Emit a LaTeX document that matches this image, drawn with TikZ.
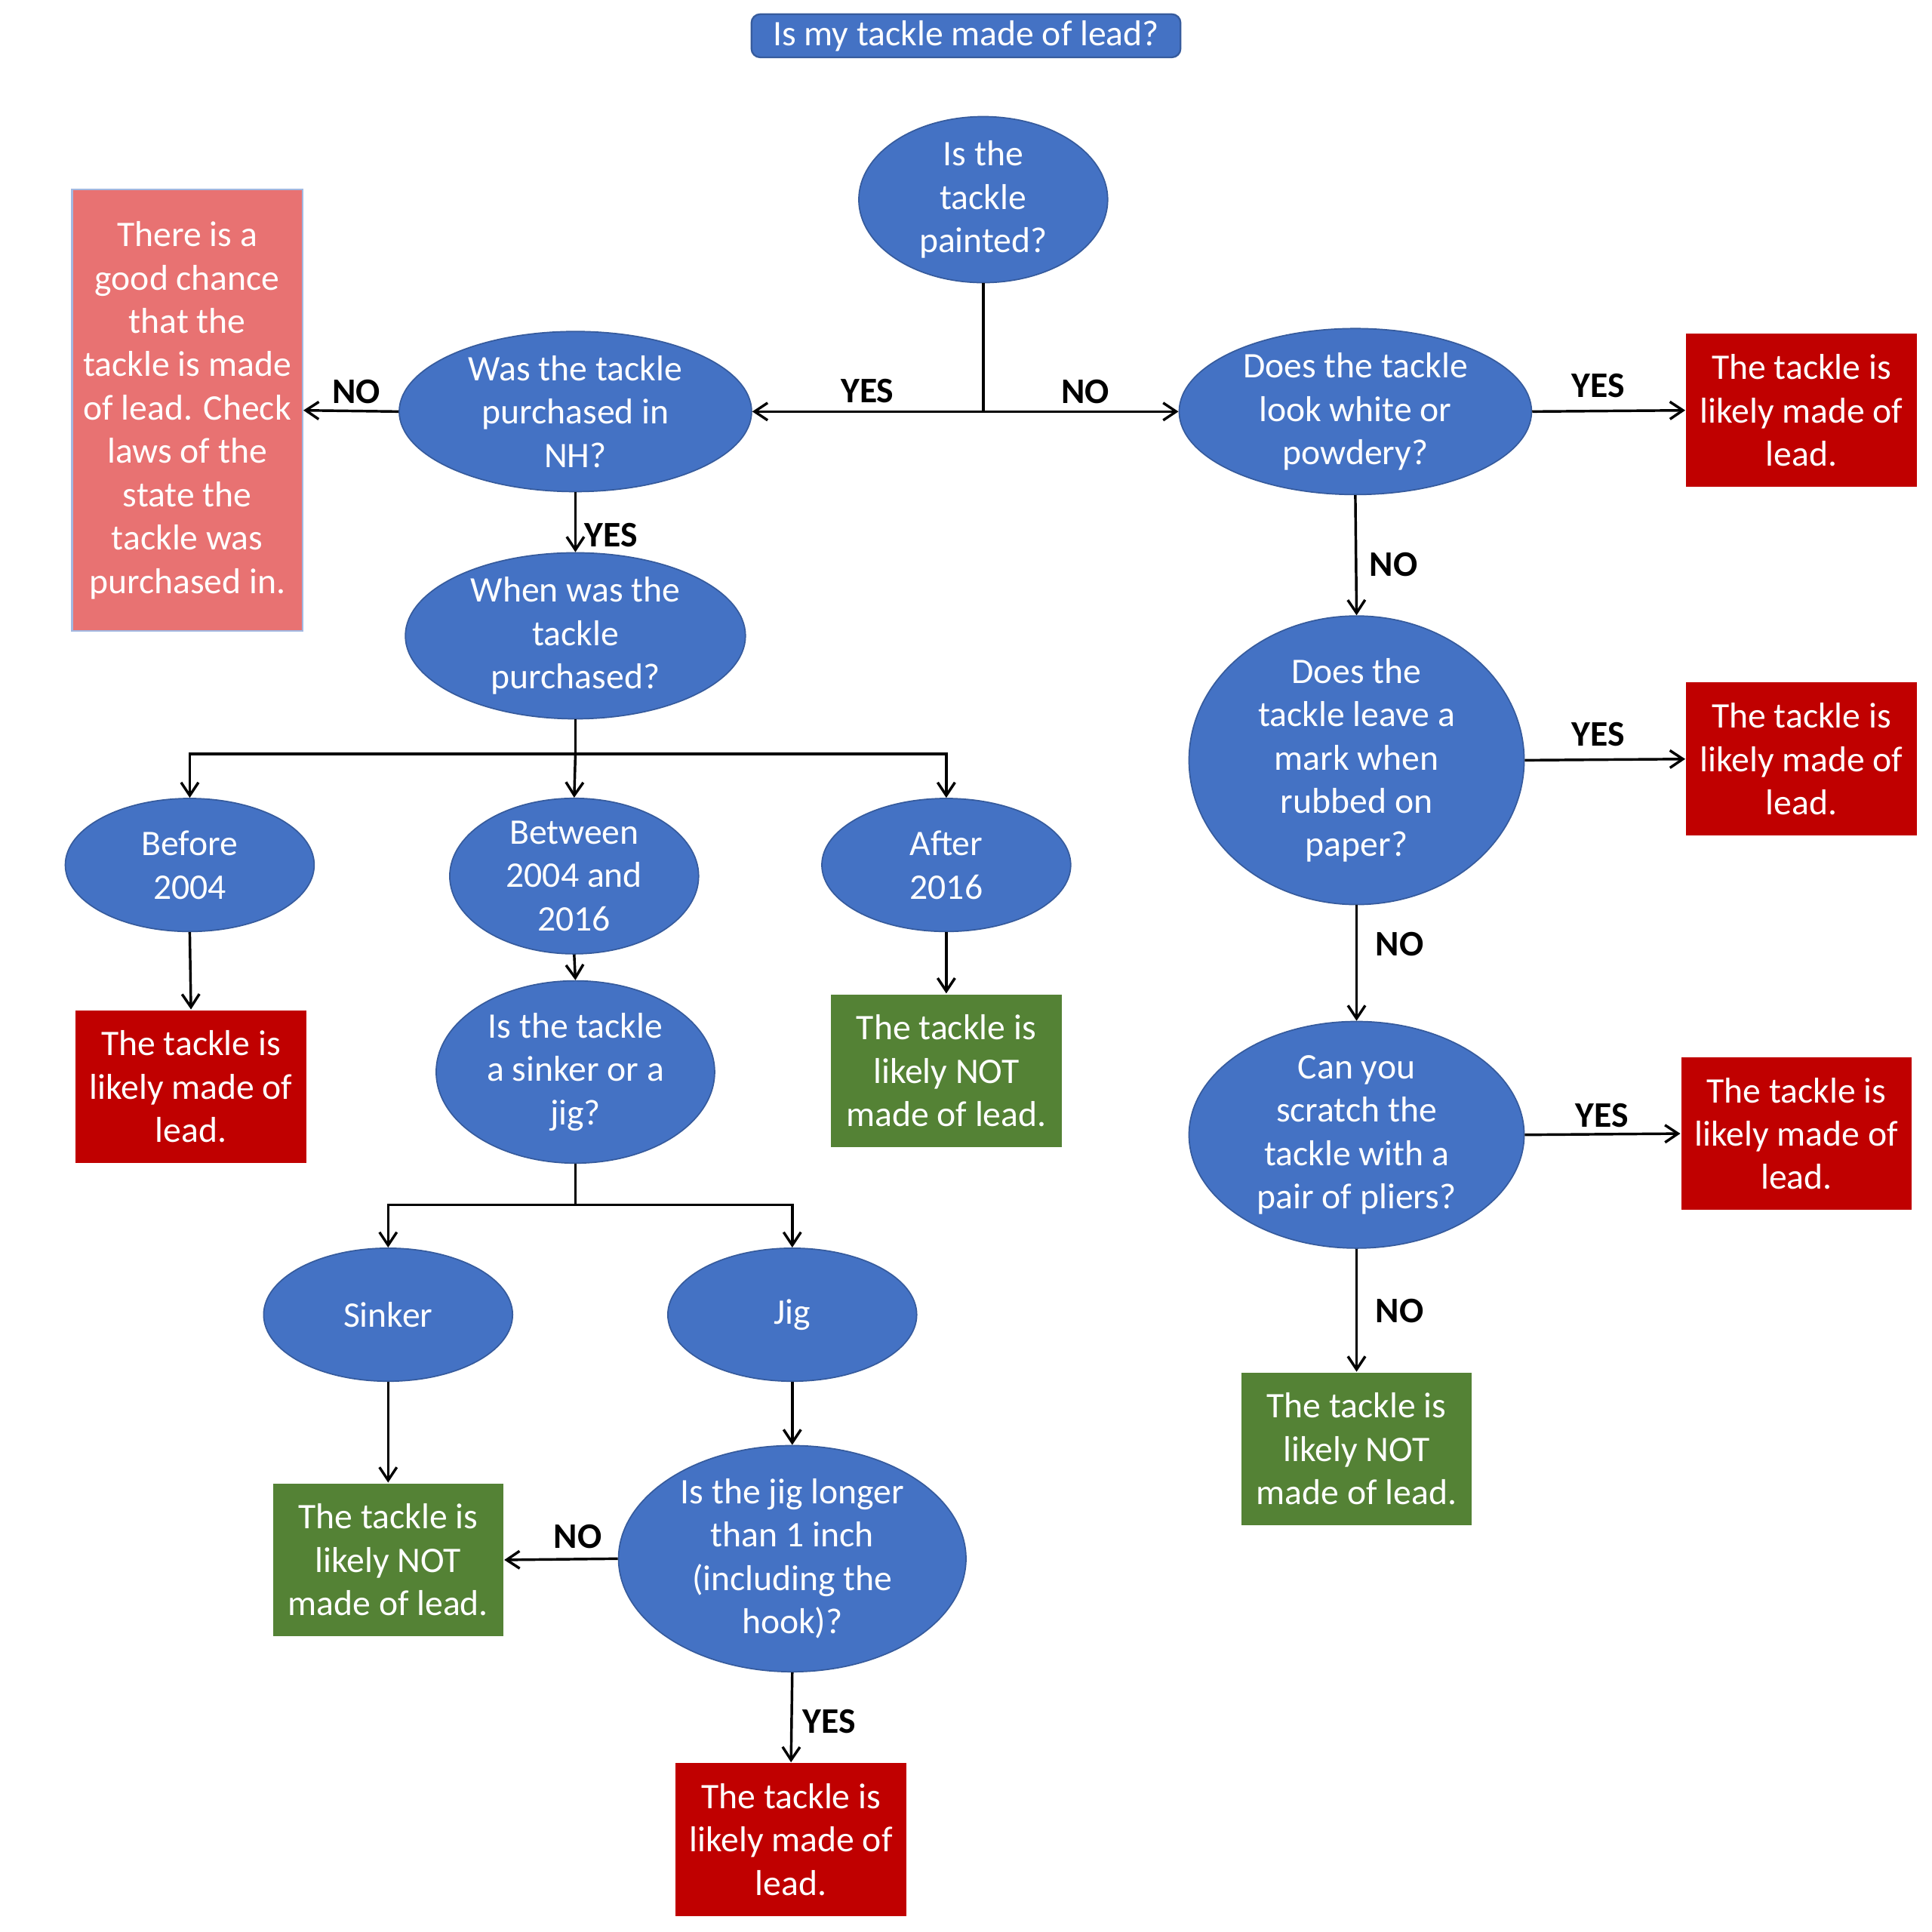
\documentclass[tikz,border=0pt]{standalone}
\usepackage{fontspec}
\setmainfont{Carlito}
\usetikzlibrary{shapes.geometric,arrows.meta}
\definecolor{bl}{HTML}{4472C4}
\definecolor{rd}{HTML}{C00000}
\definecolor{gr}{HTML}{548235}
\definecolor{pk}{HTML}{E87272}
\begin{document}
\begin{tikzpicture}[x=0.01cm,y=-0.01cm,
 every node/.style={font=\fontsize{8.3}{10}\selectfont},
 el/.style 2 args={ellipse,fill=bl,draw=bl!80!black,line width=0.3pt,text=white,align=center,inner sep=0pt,minimum width=#1*0.01cm,minimum height=#2*0.01cm},
 bx/.style={rectangle,text=white,align=center,inner sep=0pt,minimum width=1.87cm,minimum height=1.24cm},
 lb/.style={font=\fontsize{8.3}{10}\selectfont\bfseries},
 ar/.style={-{Straight Barb[length=3pt,width=4pt]},line width=0.6pt},
 ln/.style={line width=0.6pt}]
\useasboundingbox (0,0) rectangle (1568,1568);
\node[rectangle,rounded corners=2pt,fill=bl,draw=bl!80!black,text=white,minimum width=3.48cm,minimum height=0.35cm,inner sep=0pt] (title) at (784,29) {Is my tackle made of lead?};
\node[el={202}{126}] (paint) at (798,162) {Is the\\tackle\\painted?};
\node[el={286}{130}] (nh) at (467,334) {Was the tackle\\purchased in\\NH?};
\node[el={286}{130}] (white) at (1100,334) {Does the tackle\\look white or\\powdery?};
\node[bx,fill=rd] (r1) at (1462,333) {The tackle is\\likely made of\\lead.};
\node[bx,fill=pk,draw=bl!50,minimum height=3.58cm] (pink) at (152,333) {There is a\\good chance\\that the\\tackle is made\\of lead. Check\\laws of the\\state the\\tackle was\\purchased in.};
\node[el={276}{120}] (when) at (467,516) {When was the\\tackle\\purchased?};
\node[el={202}{108}] (before) at (154,702) {Before\\2004};
\node[el={202}{126}] (betw) at (466,711) {Between\\2004 and\\2016};
\node[el={202}{108}] (after) at (768,702) {After\\2016};
\node[bx,fill=rd] (rl) at (155,882) {The tackle is\\likely made of\\lead.};
\node[el={226}{148}] (sj) at (467,870) {Is the tackle\\a sinker or a\\jig?};
\node[bx,fill=gr] (ga) at (768,869) {The tackle is\\likely NOT\\made of lead.};
\node[el={202}{108}] (sinker) at (315,1067) {Sinker};
\node[el={202}{108}] (jig) at (643,1067) {Jig};
\node[bx,fill=gr] (gs) at (315,1266) {The tackle is\\likely NOT\\made of lead.};
\node[el={282}{182}] (long) at (643,1265) {Is the jig longer\\than 1 inch\\(including the\\hook)?};
\node[bx,fill=rd] (rb) at (642,1493) {The tackle is\\likely made of\\lead.};
\node[el={272}{196}] (mark) at (1101,617) {Does the\\tackle leave a\\mark when\\rubbed on\\paper?};
\node[bx,fill=rd] (r2) at (1462,616) {The tackle is\\likely made of\\lead.};
\node[el={272}{184}] (scr) at (1101,921) {Can you\\scratch the\\tackle with a\\pair of pliers?};
\node[bx,fill=rd] (r3) at (1458,920) {The tackle is\\likely made of\\lead.};
\node[bx,fill=gr] (gR) at (1101,1176) {The tackle is\\likely NOT\\made of lead.};
% connectors
\coordinate (j1) at (798,334);
\draw[ln] (paint.south) -- (j1);
\draw[ar] (j1) -- (nh.east);
\draw[ar] (j1) -- (white.west);
\draw[ar] (nh.west) -- (pink.east);
\draw[ar] (nh.south) -- (when.north);
\draw[ar] (white.east) -- (r1.west);
\draw[ar] (white.south) -- (mark.north);
\draw[ar] (mark.east) -- (r2.west);
\draw[ar] (mark.south) -- (scr.north);
\draw[ar] (scr.east) -- (r3.west);
\draw[ar] (scr.south) -- (gR.north);
\coordinate (j2) at (467,612);
\draw[ln] (when.south) -- (j2);
\draw[ar] (j2) -| (before.north);
\draw[ar] (j2) -| (after.north);
\draw[ar] (j2) -- (betw.north);
\draw[ar] (before.south) -- (rl.north);
\draw[ar] (after.south) -- (ga.north);
\draw[ar] (betw.south) -- (sj.north);
\coordinate (j3) at (467,978);
\draw[ln] (sj.south) -- (j3);
\draw[ar] (j3) -| (sinker.north);
\draw[ar] (j3) -| (jig.north);
\draw[ar] (sinker.south) -- (gs.north);
\draw[ar] (jig.south) -- (long.north);
\draw[ar] (long.west) -- (gs.east);
\draw[ar] (long.south) -- (rb.north);
% labels
\node[lb] (l1) at (704,317) {YES};
\node[lb] (l2) at (881,318) {NO};
\node[lb] (l3) at (289,318) {NO};
\node[lb] (l4) at (496,434) {YES};
\node[lb] (l5) at (1131,458) {NO};
\node[lb] (l6) at (1297,313) {YES};
\node[lb] (l7) at (1297,596) {YES};
\node[lb] (l8) at (1136,766) {NO};
\node[lb] (l9) at (1300,905) {YES};
\node[lb] (l10) at (1136,1064) {NO};
\node[lb] (l11) at (469,1247) {NO};
\node[lb] (l12) at (673,1397) {YES};
\end{tikzpicture}
\end{document}
